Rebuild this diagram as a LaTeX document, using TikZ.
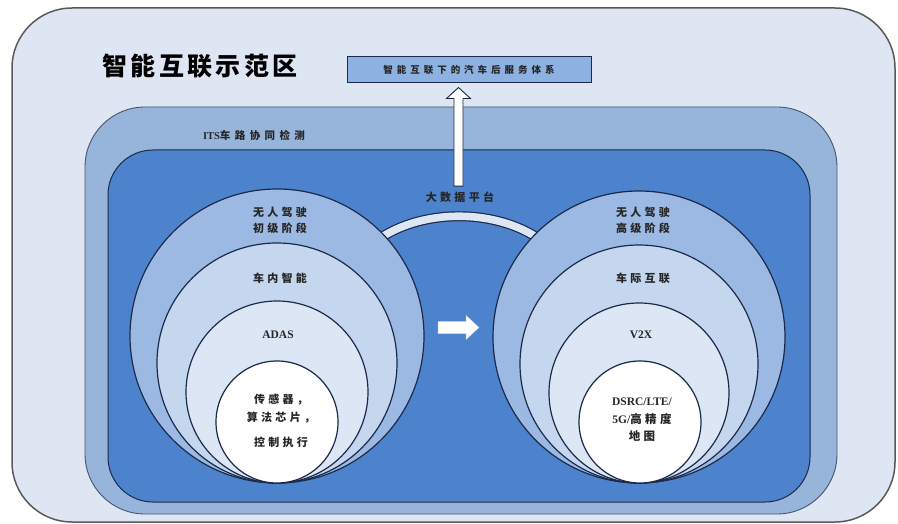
\documentclass[tikz,border=0pt]{standalone}
\usepackage{fontspec}
\setmainfont{Liberation Serif}
\newfontfamily\cjk[LetterSpace=30]{Noto Sans CJK SC}
\newfontfamily\cjkS[LetterSpace=42]{Noto Sans CJK SC}
\newfontfamily\cjkT[LetterSpace=14]{Noto Sans CJK SC}
\usetikzlibrary{calc}
\definecolor{bgfill}{HTML}{DDE6F2}
\definecolor{itsfill}{HTML}{97B5DA}
\definecolor{innerfill}{HTML}{4D83CC}
\definecolor{cA}{HTML}{9BB9E2}
\definecolor{cB}{HTML}{C5D7EF}
\definecolor{cC}{HTML}{DCE6F4}
\definecolor{linec}{HTML}{1B2A4A}
\definecolor{txt}{HTML}{262626}
\definecolor{boxfill}{HTML}{8DB1E0}
\begin{document}
\begin{tikzpicture}[x=1pt,y=-1pt,
  ring/.style={circle,draw=linec,line width=1.2pt,inner sep=0pt},
  lab/.style={text=txt,align=center,font=\fontsize{11}{16}\selectfont\cjk\bfseries},
  arrowsty/.style={fill=white,draw=linec,line width=0.9pt,line join=miter}]
\useasboundingbox (0,0) rectangle (898,524);
% frames
\draw[fill=bgfill,draw=black!65,line width=1.5pt,rounded corners=60pt] (12,8) rectangle (895,522);
\draw[fill=itsfill,draw=linec!80,line width=0.9pt,rounded corners=60pt] (85,107) rectangle (837,514);
\draw[fill=innerfill,draw=linec,line width=1pt,rounded corners=45pt] (108,150) rectangle (810,502);
% title and top box
\node[text=black,font=\fontsize{25}{28}\selectfont\cjkT\bfseries] (title) at (200,66) {智能互联示范区};
\node[draw=linec,line width=1pt,fill=boxfill,minimum width=244pt,minimum height=26pt,inner sep=0pt,
  text=txt,font=\fontsize{9.5}{11}\selectfont\cjkS\bfseries] (tb) at (469,70) {智能互联下的汽车后服务体系};
\node[text=txt,font=\fontsize{10.5}{12}\selectfont\bfseries] (its) at (254,135) {ITS{\cjkS\bfseries 车路协同检测}};
% big data arc
\draw[line width=10pt,draw=linec] (372,244) .. controls (418,207) and (500,207) .. (546,244);
\draw[line width=7.6pt,draw=cC] (372,244) .. controls (418,207) and (500,207) .. (546,244);
% left circles
\node[ring,fill=cA,minimum size=294pt] (L1) at (277,336) {};
\node[ring,fill=cB,minimum size=240pt] (L2) at (277,363) {};
\node[ring,fill=cC,minimum size=182pt] (L3) at (277,392) {};
\node[ring,fill=white,minimum size=122pt] (L4) at (277,422) {};
% right circles
\node[ring,fill=cA,minimum size=292pt] (R1) at (639,337) {};
\node[ring,fill=cB,minimum size=238pt] (R2) at (639,364) {};
\node[ring,fill=cC,minimum size=180pt] (R3) at (639,393) {};
\node[ring,fill=white,minimum size=122pt] (R4) at (640,422) {};
% labels left
\node[lab] (l1) at (280,220) {无人驾驶\\初级阶段};
\node[lab] (l2) at (280,278) {车内智能};
\node[lab,font=\fontsize{11.5}{14}\selectfont\bfseries] (l3) at (278,335) {ADAS};
\node[lab,font=\fontsize{11}{18}\selectfont\cjk\bfseries] (l4) at (281,421) {传感器，\\算法芯片，\\[7pt]控制执行};
% labels right
\node[lab] (r1) at (643,220) {无人驾驶\\高级阶段};
\node[lab] (r2) at (643,278) {车际互联};
\node[lab,font=\fontsize{11.5}{14}\selectfont\bfseries] (r3) at (641,335) {V2X};
\node[lab,font=\fontsize{11.5}{17.5}\selectfont\bfseries] (r4) at (642,420) {DSRC/LTE/\\5G/{\cjk\bfseries 高精度}\\{\cjk\bfseries 地图}};
% big data label
\node[lab] (bd) at (460,197) {大数据平台};
% up arrow from big data to top box
\coordinate (ua) at ($(bd.north)+(-1.5,-2)$);
\coordinate (ub) at ($(ua |- tb.south)+(0,4)$);
\draw[arrowsty] ($(ua)+(-4.5,0)$) -- ($(ub)+(-4.5,11)$) -- ($(ub)+(-12,11)$) -- (ub)
  -- ($(ub)+(12,11)$) -- ($(ub)+(4.5,11)$) -- ($(ua)+(4.5,0)$) -- cycle;
% right arrow between the two circle groups
\coordinate (ra) at ($(L1.east)!0.5!(R1.west)+(0,-9)$);
\draw[fill=white,draw=black!15,line width=0.5pt,line join=miter]
  ($(ra)+(-20.5,-6)$) -- ($(ra)+(7.5,-6)$) -- ($(ra)+(7.5,-12)$) -- ($(ra)+(20.5,0)$)
  -- ($(ra)+(7.5,12)$) -- ($(ra)+(7.5,6)$) -- ($(ra)+(-20.5,6)$) -- cycle;
\end{tikzpicture}
\end{document}
